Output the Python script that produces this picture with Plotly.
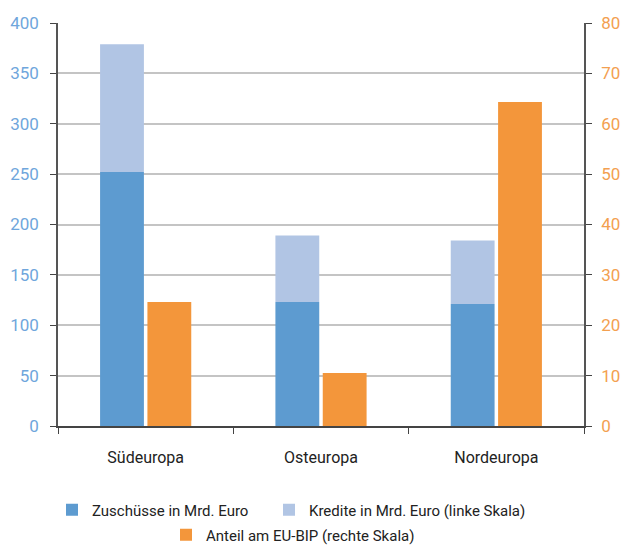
import plotly.graph_objects as go

# Regions and values
regionen = ["Südeuropa", "Osteuropa", "Nordeuropa"]
zuschuesse = [252, 123, 121]          # Mrd. Euro (linke Skala)
kredite = [127, 66, 63]               # Mrd. Euro (linke Skala), gestapelt
anteil_bip = [24.6, 10.5, 64.3]       # Prozent (rechte Skala)

left_ticks = list(range(0, 401, 50))
right_ticks = list(range(0, 81, 10))

FONT = "Roboto, Liberation Sans, sans-serif"
C_ZUS = "#5d9bd0"
C_KRE = "#b1c5e4"
C_BIP = "#f3963b"

BAR_W = 0.25

fig = go.Figure()

fig.add_trace(go.Bar(
    x=regionen, y=zuschuesse, name="Zuschüsse in Mrd. Euro",
    marker=dict(color=C_ZUS, line=dict(width=0)),
    width=BAR_W, offset=-0.26, legend="legend", showlegend=True,
))
fig.add_trace(go.Bar(
    x=regionen, y=kredite, base=zuschuesse,
    name="Kredite in Mrd. Euro (linke Skala)",
    marker=dict(color=C_KRE, line=dict(width=0)),
    width=BAR_W, offset=-0.26, legend="legend2", showlegend=True,
))
fig.add_trace(go.Bar(
    x=regionen, y=anteil_bip, name="Anteil am EU-BIP (rechte Skala)",
    marker=dict(color=C_BIP, line=dict(width=0)),
    width=BAR_W, offset=0.01, yaxis="y2", legend="legend3", showlegend=True,
))

legend_font = dict(family=FONT, size=15, color="#222")


def legend_box(x_px, y_px):
    return dict(
        orientation="h", xref="container", yref="container",
        x=x_px / 624, xanchor="left",
        y=1 - y_px / 545, yanchor="middle",
        font=legend_font,
    )


fig.update_layout(
    width=624, height=545,
    margin=dict(l=58, r=40, t=23, b=119),
    paper_bgcolor="white", plot_bgcolor="white",
    barmode="overlay",
    showlegend=True,
    font=dict(family=FONT, size=15, color="#222"),
    xaxis=dict(
        type="category", automargin=False,
        tickson="boundaries", ticks="outside", ticklen=6,
        tickcolor="#444", tickwidth=1.2,
        ticklabelstandoff=16,
        showline=True, linecolor="#444", linewidth=1.5,
        showgrid=False,
        tickfont=dict(family=FONT, size=16, color="#222"),
    ),
    yaxis=dict(
        range=[0, 400], tickvals=left_ticks, automargin=False,
        ticks="outside", ticklen=6, tickcolor="#444", tickwidth=1.2,
        ticklabelstandoff=8,
        showline=True, linecolor="#555", linewidth=1.5,
        showgrid=True, gridcolor="#c4c4c4", gridwidth=1.5,
        zeroline=False,
        tickfont=dict(family=FONT, size=17, color="#6fa6dc"),
    ),
    yaxis2=dict(
        range=[0, 80], tickvals=right_ticks, automargin=False,
        overlaying="y", side="right",
        ticks="outside", ticklen=6, tickcolor="#444", tickwidth=1.2,
        ticklabelstandoff=6,
        showline=True, linecolor="#555", linewidth=1.5,
        showgrid=False, zeroline=False,
        tickfont=dict(family=FONT, size=17, color="#f3a050"),
    ),
    legend=legend_box(52, 510),
    legend2=legend_box(269, 510),
    legend3=legend_box(166, 535),
)

fig.write_html("out.html")
